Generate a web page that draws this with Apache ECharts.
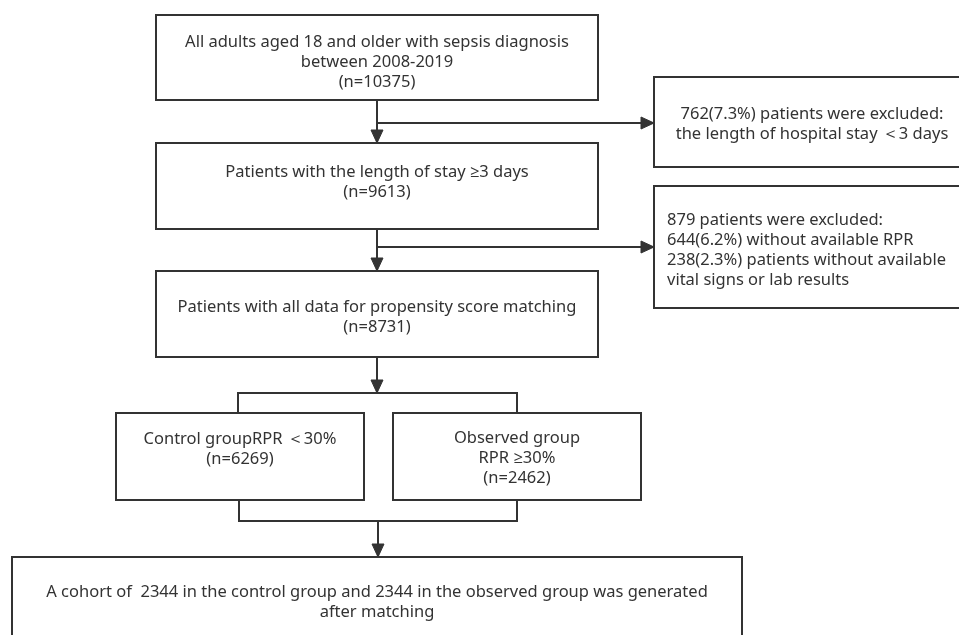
<!DOCTYPE html>
<html>
<head>
<meta charset="utf-8">
<script src="https://cdn.jsdelivr.net/npm/echarts@6/dist/echarts.min.js"></script>
<style>html,body{margin:0;padding:0;background:#fff}#c{width:959px;height:635px}</style>
</head>
<body>
<div id="c"></div>
<script>
// Flowchart content
var boxTexts = [
  "All adults aged 18 and older with sepsis diagnosis\nbetween 2008-2019\n(n=10375)",
  "Patients with the length of stay \u22653 days\n(n=9613)",
  "Patients with all data for propensity score matching\n(n=8731)",
  "762(7.3%) patients were excluded:\nthe length of hospital stay \uFF1C3 days",
  "879 patients were excluded:\n644(6.2%) without available RPR\n238(2.3%) patients without available\nvital signs or lab results",
  "Control groupRPR \uFF1C30%\n(n=6269)",
  "Observed group\nRPR \u226530%\n(n=2462)",
  "A cohort of  2344 in the control group and 2344 in the observed group was generated\nafter matching"
];
// box extents in diagram coordinates [x0, y0, x1, y1]
var boxX0 = [156, 156, 156, 654, 654, 116, 393, 12];
var boxY0 = [15, 143, 271, 77, 186, 413, 413, 557];
var boxX1 = [598, 598, 598, 970, 970, 364, 641, 742];
var boxY1 = [100, 229, 357, 167, 308, 500, 500, 660];
var boxAlign = ["center", "center", "center", "center", "left", "center", "center", "center"];
var boxTextY = [62, 182, 317, 124, 250, 449, 458, 602];

// connectors: list of points, arrow at end flag
var connPoints = [
  [[377, 100], [377, 143]],
  [[377, 123], [654, 123]],
  [[377, 229], [377, 271]],
  [[377, 247], [654, 247]],
  [[377, 357], [377, 393]],
  [[238, 413], [238, 393], [517, 393], [517, 413]],
  [[239, 500], [239, 521], [517, 521], [517, 500]],
  [[378, 521], [378, 557]]
];
var connArrow = [true, true, true, true, true, false, false, true];

var ink = '#333333';
var fontFam = '"Noto Sans", "Open Sans", sans-serif';

var chart = echarts.init(document.getElementById('c'));

function boxRender(params, api) {
  var i = params.dataIndex;
  var p0 = api.coord([boxX0[i], boxY0[i]]);
  var p1 = api.coord([boxX1[i], boxY1[i]]);
  var tx = boxAlign[i] === 'left' ? api.coord([boxX0[i] + 13, 0])[0] : (p0[0] + p1[0]) / 2;
  var ty = api.coord([0, boxTextY[i]])[1];
  return {
    type: 'group',
    children: [
      {type: 'rect', shape: {x: p0[0], y: p0[1], width: p1[0] - p0[0], height: p1[1] - p0[1]},
       style: {fill: '#fff', stroke: ink, lineWidth: 2}},
      {type: 'text', x: tx, y: ty,
       style: {text: boxTexts[i], fill: '#333', font: '16.5px ' + fontFam,
               align: boxAlign[i], verticalAlign: 'middle', lineHeight: 20}}
    ]
  };
}

function connRender(params, api) {
  var i = params.dataIndex;
  var pts = connPoints[i].map(function (p) { return api.coord(p); });
  var children = [{type: 'polyline', shape: {points: pts}, style: {stroke: ink, lineWidth: 2, fill: null}}];
  if (connArrow[i]) {
    var a = pts[pts.length - 2], b = pts[pts.length - 1];
    var dx = b[0] - a[0], dy = b[1] - a[1];
    var len = Math.sqrt(dx * dx + dy * dy);
    var ux = dx / len, uy = dy / len;
    var L = 13, W = 6;
    var bx = b[0] - ux * L, by = b[1] - uy * L;
    children.push({type: 'polygon', shape: {points: [[b[0], b[1]], [bx - uy * W, by + ux * W], [bx + uy * W, by - ux * W]]},
                   style: {fill: ink, stroke: ink, lineWidth: 1}});
  }
  return {type: 'group', children: children};
}

chart.setOption({
  animation: false,
  backgroundColor: '#fff',
  grid: {left: 0, right: 0, top: 0, bottom: 0},
  xAxis: {type: 'value', min: 0, max: 959, show: false},
  yAxis: {type: 'value', min: 0, max: 635, inverse: true, show: false},
  series: [
    {type: 'custom', renderItem: connRender, data: connPoints.map(function (p, i) { return [i]; }), clip: false, z: 1},
    {type: 'custom', renderItem: boxRender, data: boxTexts.map(function (t, i) { return [i]; }), clip: false, z: 2}
  ]
});
</script>
</body>
</html>
